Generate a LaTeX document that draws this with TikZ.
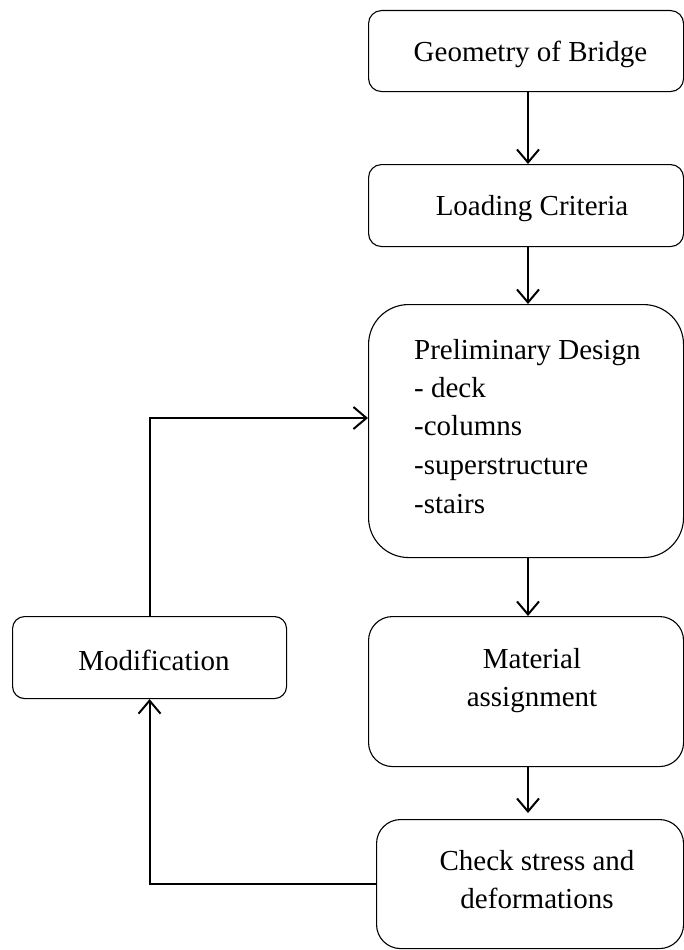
\documentclass[tikz,border=0pt]{standalone}
\usepackage{fontspec}
\setmainfont{Liberation Serif}
\usetikzlibrary{arrows.meta}
\begin{document}
\begin{tikzpicture}[x=1pt,y=-1pt,
  box/.style={draw=black,line width=1.1pt,rectangle,anchor=north west,inner sep=0pt},
  lbl/.style={font=\fontsize{29}{38}\selectfont,inner sep=0pt},
  arr/.style={draw=black,line width=2pt,-{Straight Barb[length=13pt,width=22pt,line width=2pt]}}]
\useasboundingbox (0,0) rectangle (684,950);
% boxes
\node[box,rounded corners=13pt,minimum width=315pt,minimum height=81pt] (b1) at (368,10) {};
\node[box,rounded corners=13pt,minimum width=315pt,minimum height=82pt] (b2) at (368,164) {};
\node[box,rounded corners=40pt,minimum width=315pt,minimum height=253pt] (b3) at (368,304) {};
\node[box,rounded corners=24pt,minimum width=315pt,minimum height=150pt] (b4) at (368,616) {};
\node[box,rounded corners=24pt,minimum width=307pt,minimum height=129pt] (b5) at (376,819) {};
\node[box,rounded corners=12pt,minimum width=274pt,minimum height=82pt] (b6) at (12,616) {};
% texts
\node[lbl,anchor=base] (t1) at (530.5,62) {Geometry of Bridge};
\node[lbl,anchor=base] (t2) at (532,215) {Loading Criteria};
\node[lbl,anchor=base west] (t3a) at (414,359) {Preliminary Design};
\node[lbl,anchor=base west] (t3b) at (414,397) {- deck};
\node[lbl,anchor=base west] (t3c) at (414,435) {-columns};
\node[lbl,anchor=base west] (t3d) at (414,474) {-superstructure};
\node[lbl,anchor=base west] (t3e) at (414,513) {-stairs};
\node[lbl,anchor=base] (t4a) at (532,668) {Material};
\node[lbl,anchor=base] (t4b) at (532,706) {assignment};
\node[lbl,anchor=base] (t5a) at (537,870) {Check stress and};
\node[lbl,anchor=base] (t5b) at (537,908) {deformations};
\node[lbl,anchor=base] (t6) at (154,670) {Modification};
% connectors
\coordinate (col) at (528,0);
\coordinate (loopy) at (0,418);
\draw[arr] (b1.south -| col) -- (b2.north -| col);
\draw[arr] (b2.south -| col) -- (b3.north -| col);
\draw[arr] (b3.south -| col) -- (b4.north -| col);
\draw[arr,shorten >=6pt] (b4.south -| col) -- (b5.north -| col);
\draw[arr] (b5.west) -| (b6.south);
\draw[arr] (b6.north) |- (b3.west |- loopy);
\end{tikzpicture}
\end{document}
